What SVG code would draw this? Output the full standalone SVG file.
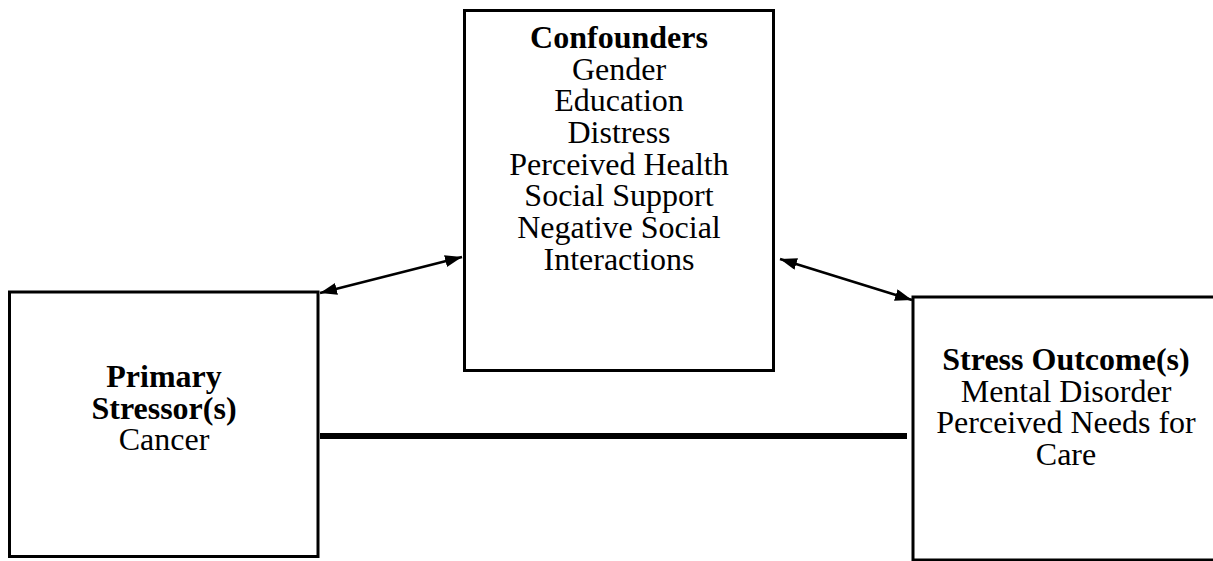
<svg xmlns="http://www.w3.org/2000/svg" width="1213" height="561" viewBox="0 0 1213 561">
<style>
.box{fill:#fff;stroke:#000;stroke-width:3}
text{font-family:"Liberation Serif","Times New Roman",serif;font-size:32px;fill:#000;text-anchor:middle}
.b{font-weight:bold}
.arr{stroke:#000;stroke-width:2.5;fill:none;marker-start:url(#ah);marker-end:url(#ah)}
</style>
<defs>
<marker id="ah" viewBox="0 0 17 12" refX="17" refY="6" markerWidth="17" markerHeight="12" markerUnits="userSpaceOnUse" orient="auto-start-reverse">
<path d="M0,0 L17,6 L0,12 Z" fill="#000"/>
</marker>
</defs>
<rect width="1213" height="561" fill="#fff"/>
<g id="connectors">
<line class="arr" x1="320" y1="293" x2="462" y2="257"/>
<line class="arr" x1="780" y1="259" x2="912" y2="300"/>
<line x1="320" y1="436" x2="907" y2="436" stroke="#000" stroke-width="6"/>
</g>
<g id="confounders">
<rect class="box" x="464.5" y="10.5" width="309" height="360"/>
<text x="619" y="48" class="b">Confounders</text>
<text x="619" y="80">Gender</text>
<text x="619" y="111">Education</text>
<text x="619" y="143">Distress</text>
<text x="619" y="175">Perceived Health</text>
<text x="619" y="206">Social Support</text>
<text x="619" y="238">Negative Social</text>
<text x="619" y="270">Interactions</text>
</g>
<g id="primary">
<rect class="box" x="9.5" y="292" width="308.5" height="264.5"/>
<text x="164" y="387" class="b">Primary</text>
<text x="164" y="419" class="b">Stressor(s)</text>
<text x="164" y="450">Cancer</text>
</g>
<g id="outcome">
<rect class="box" x="913" y="297" width="320" height="263"/>
<text x="1066" y="370" class="b">Stress Outcome(s)</text>
<text x="1066" y="402">Mental Disorder</text>
<text x="1066" y="433">Perceived Needs for</text>
<text x="1066" y="465">Care</text>
</g>
</svg>
